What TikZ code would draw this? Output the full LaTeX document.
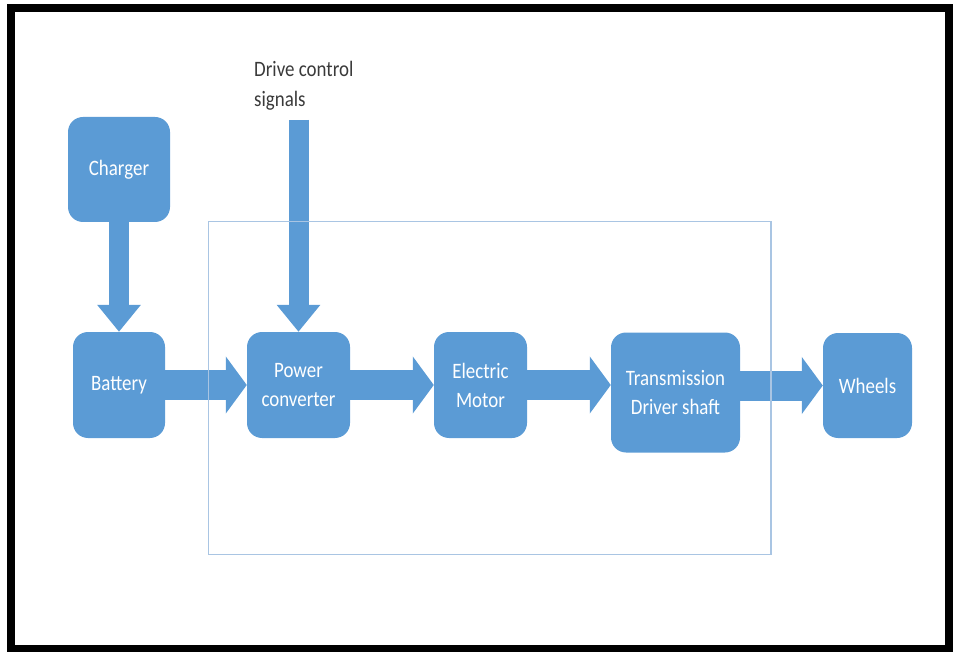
\documentclass[tikz,border=0pt]{standalone}
\usepackage{fontspec}
\setmainfont{Carlito}
\newfontfamily\narrowfont[FakeStretch=0.86]{Carlito}
\usepackage{xcolor}
\usepackage{tikz}
\usetikzlibrary{arrows.meta}

\definecolor{boxblue}{HTML}{5B9BD5}
\definecolor{rimblue}{HTML}{A9C5E3}
\definecolor{txtgray}{HTML}{3A3A3A}

\begin{document}
\begin{tikzpicture}[x=1pt,y=-1pt,
		blk/.style={fill=boxblue, rounded corners=15pt, text=white, align=center,
			font=\narrowfont\fontsize{22}{29}\selectfont, inner sep=0pt},
		harrow/.style={draw=boxblue, line width=30pt, -{Triangle[width=56pt,length=21pt]}},
		varrow/.style={draw=boxblue, line width=20pt, -{Triangle[width=42pt,length=27pt]}}]
		\useasboundingbox (0,0) rectangle (953,652);
		
		% outer frame
		\draw[line width=8pt] (11,8.5) rectangle (949,649);
		
		% blocks
		\node[blk, minimum width=102pt, minimum height=105pt] (charger) at (119,169.5) {Charger};
		\node[blk, minimum width=92pt, minimum height=106pt] (battery) at (119,385) {Battery};
		\node[blk, minimum width=103pt, minimum height=106pt] (conv) at (298.5,385) {Power\\converter};
		\node[blk, minimum width=93pt, minimum height=106pt] (motor) at (480.5,385) {Electric\\Motor};
		\node[blk, minimum width=129pt, minimum height=120pt] (trans) at (675.5,392.5) {Transmission\\Driver shaft};
		\node[blk, minimum width=89pt, minimum height=105pt] (wheels) at (867.5,385.5) {Wheels};
		
		% control input
		\node[text=txtgray, align=left, anchor=north west, inner sep=0pt,
			font=\narrowfont\fontsize{22}{30}\selectfont] (drvtxt) at (254,61) {Drive control\\signals};
		\coordinate (drvtop) at (298.5,120);
		
		\draw[varrow] (charger.south) -- (battery.north);
		\draw[varrow] (drvtop) -- (conv.north);
		
		\draw[harrow] (battery.east) -- (conv.west);
		\draw[harrow] (conv.east) -- (motor.west);
		\draw[harrow] (motor.east) -- (motor.east -| trans.west);
		\draw[harrow] (wheels.west -| trans.east) -- (wheels.west);
		
		% system boundary
		\draw[rimblue, line width=1.2pt] (208.5,221.5) rectangle (771,554.5);
		
\end{tikzpicture}
\end{document}
